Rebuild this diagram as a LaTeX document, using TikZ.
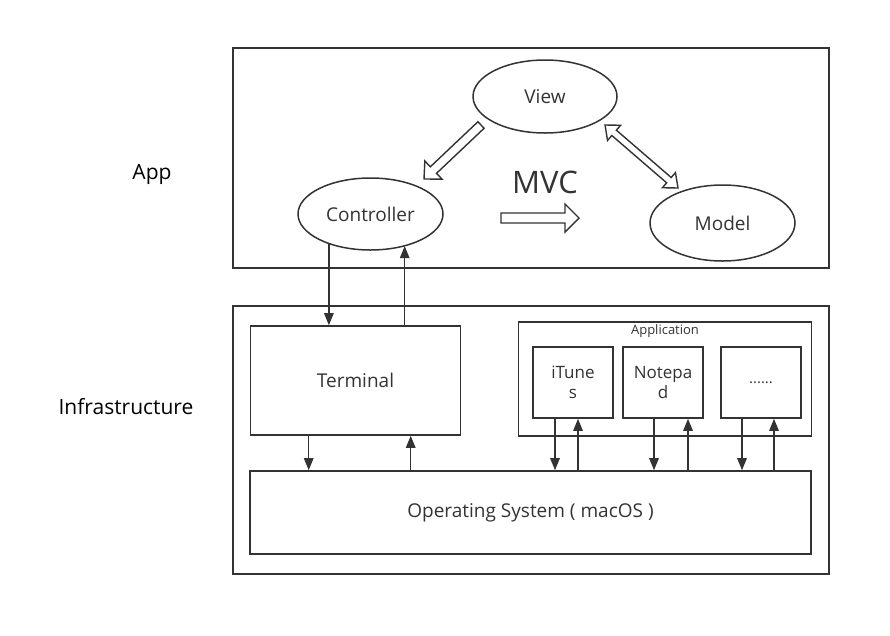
\documentclass[tikz,border=0pt]{standalone}
\usepackage{fontspec}
\setmainfont{Open Sans}
\usetikzlibrary{arrows.meta,calc,shapes.geometric}
\definecolor{ink}{HTML}{333333}
\tikzset{
  box/.style={draw=ink, line width=1.6pt, rectangle, inner sep=0pt},
  ell/.style={draw=ink, line width=1.5pt, ellipse, inner sep=0pt, text=ink, font=\fontsize{19}{22}\selectfont},
  lbl/.style={text=ink, font=\fontsize{19}{22}\selectfont},
  side/.style={text=black, font=\fontsize{21}{24}\selectfont},
  arr/.style={draw=ink, line width=1.4pt, -{Triangle[length=12pt,width=9.5pt]}},
  hollow/.style={draw=ink, line width=1.4pt, fill=white, line join=miter},
}
\newcommand{\hollowsingle}[5]{%
  \coordinate (hsH) at ($(#2)!#5!(#1)$);
  \draw[hollow] ($(#1)!#3!90:(#2)$) -- ($(hsH)!#3!90:(#2)$) -- ($(hsH)!#4!90:(#2)$) -- (#2)
     -- ($(hsH)!#4!-90:(#2)$) -- ($(hsH)!#3!-90:(#2)$) -- ($(#1)!#3!-90:(#2)$) -- cycle;
}
\newcommand{\hollowdouble}[5]{%
  \coordinate (hdA) at ($(#1)!#5!(#2)$);
  \coordinate (hdB) at ($(#2)!#5!(#1)$);
  \draw[hollow] (#1) -- ($(hdA)!#4!90:(#2)$) -- ($(hdA)!#3!90:(#2)$) -- ($(hdB)!#3!90:(#2)$)
     -- ($(hdB)!#4!90:(#2)$) -- (#2) -- ($(hdB)!#4!-90:(#2)$) -- ($(hdB)!#3!-90:(#2)$)
     -- ($(hdA)!#3!-90:(#2)$) -- ($(hdA)!#4!-90:(#2)$) -- cycle;
}
\begin{document}
\begin{tikzpicture}[x=1pt,y=-1pt]
\useasboundingbox[fill=white] (0,0) rectangle (890,635);

% outer boxes
\node[box, minimum width=596pt, minimum height=220pt] (appbox) at (531,158) {};
\node[box, minimum width=596pt, minimum height=268pt] (infra) at (531,440) {};
\node[side] (applbl) at (152,174) {App};
\node[side] (infralbl) at (126,407) {Infrastructure};

% MVC
\node[ell, minimum width=144pt, minimum height=73pt] (view) at (545,96.5) {View};
\node[ell, minimum width=145pt, minimum height=72pt] (ctrl) at (370.5,214) {Controller};
\node[ell, minimum width=145pt, minimum height=76pt] (model) at (722.5,223) {Model};
\node[text=ink, font=\fontsize{31}{34}\selectfont] (mvc) at (545,182) {MVC};

\coordinate (vcA) at (481,125);
\coordinate (vcB) at (424,179);
\hollowsingle{vcA}{vcB}{4.5pt}{12.5pt}{13pt}
\coordinate (mvA) at (501,218);
\coordinate (mvB) at (579,218);
\hollowsingle{mvA}{mvB}{5pt}{14pt}{14pt}
\coordinate (vmA) at (605,125);
\coordinate (vmB) at (678,188);
\hollowdouble{vmA}{vmB}{3.5pt}{10pt}{12pt}

% infrastructure contents
\node[box, minimum width=210pt, minimum height=109pt, lbl] (term) at (355.5,380.5) {Terminal};
\node[box, minimum width=561pt, minimum height=83pt, lbl] (os) at (530.5,512.5) {Operating System ( macOS )};
\node[box, minimum width=293pt, minimum height=114pt] (appl) at (665,379) {};
\node[text=ink, font=\fontsize{13}{15}\selectfont, anchor=north] (appltxt) at ($(appl.north)+(0,0)$) {Application};
\node[box, minimum width=80pt, minimum height=71pt, lbl, align=center, font=\fontsize{17}{20}\selectfont] (itunes) at (573,382.5) {iTune\\s};
\node[box, minimum width=80pt, minimum height=71pt, lbl, align=center, font=\fontsize{17}{20}\selectfont] (notepad) at (663,382.5) {Notepa\\d};
\node[box, minimum width=80pt, minimum height=71pt, lbl, font=\fontsize{15}{18}\selectfont] (dots) at (761,382.5) {......};

% controller <-> terminal
\draw[arr] (ctrl.216.87) -- (ctrl.216.87 |- term.north);
\coordinate (tu) at ($(term.north west)+(155,0)$);
\draw[arr] (tu) -- (tu |- ctrl.318);

% terminal <-> os
\coordinate (td) at ($(term.south west)+(59,0)$);
\draw[arr] (td) -- (td |- os.north);
\coordinate (to) at ($(term.south west)+(161,0)$);
\draw[arr] (to |- os.north) -- (to);

% apps <-> os
\coordinate (i1) at ($(itunes.south)+(-18,0)$);
\coordinate (i2) at ($(itunes.south)+(5,0)$);
\draw[arr] (i1) -- (i1 |- os.north);
\draw[arr] (i2 |- os.north) -- (i2);
\coordinate (n1) at ($(notepad.south)+(-9,0)$);
\coordinate (n2) at ($(notepad.south)+(25,0)$);
\draw[arr] (n1) -- (n1 |- os.north);
\draw[arr] (n2 |- os.north) -- (n2);
\coordinate (d1) at ($(dots.south)+(-19,0)$);
\coordinate (d2) at ($(dots.south)+(13,0)$);
\draw[arr] (d1) -- (d1 |- os.north);
\draw[arr] (d2 |- os.north) -- (d2);
\end{tikzpicture}
\end{document}
